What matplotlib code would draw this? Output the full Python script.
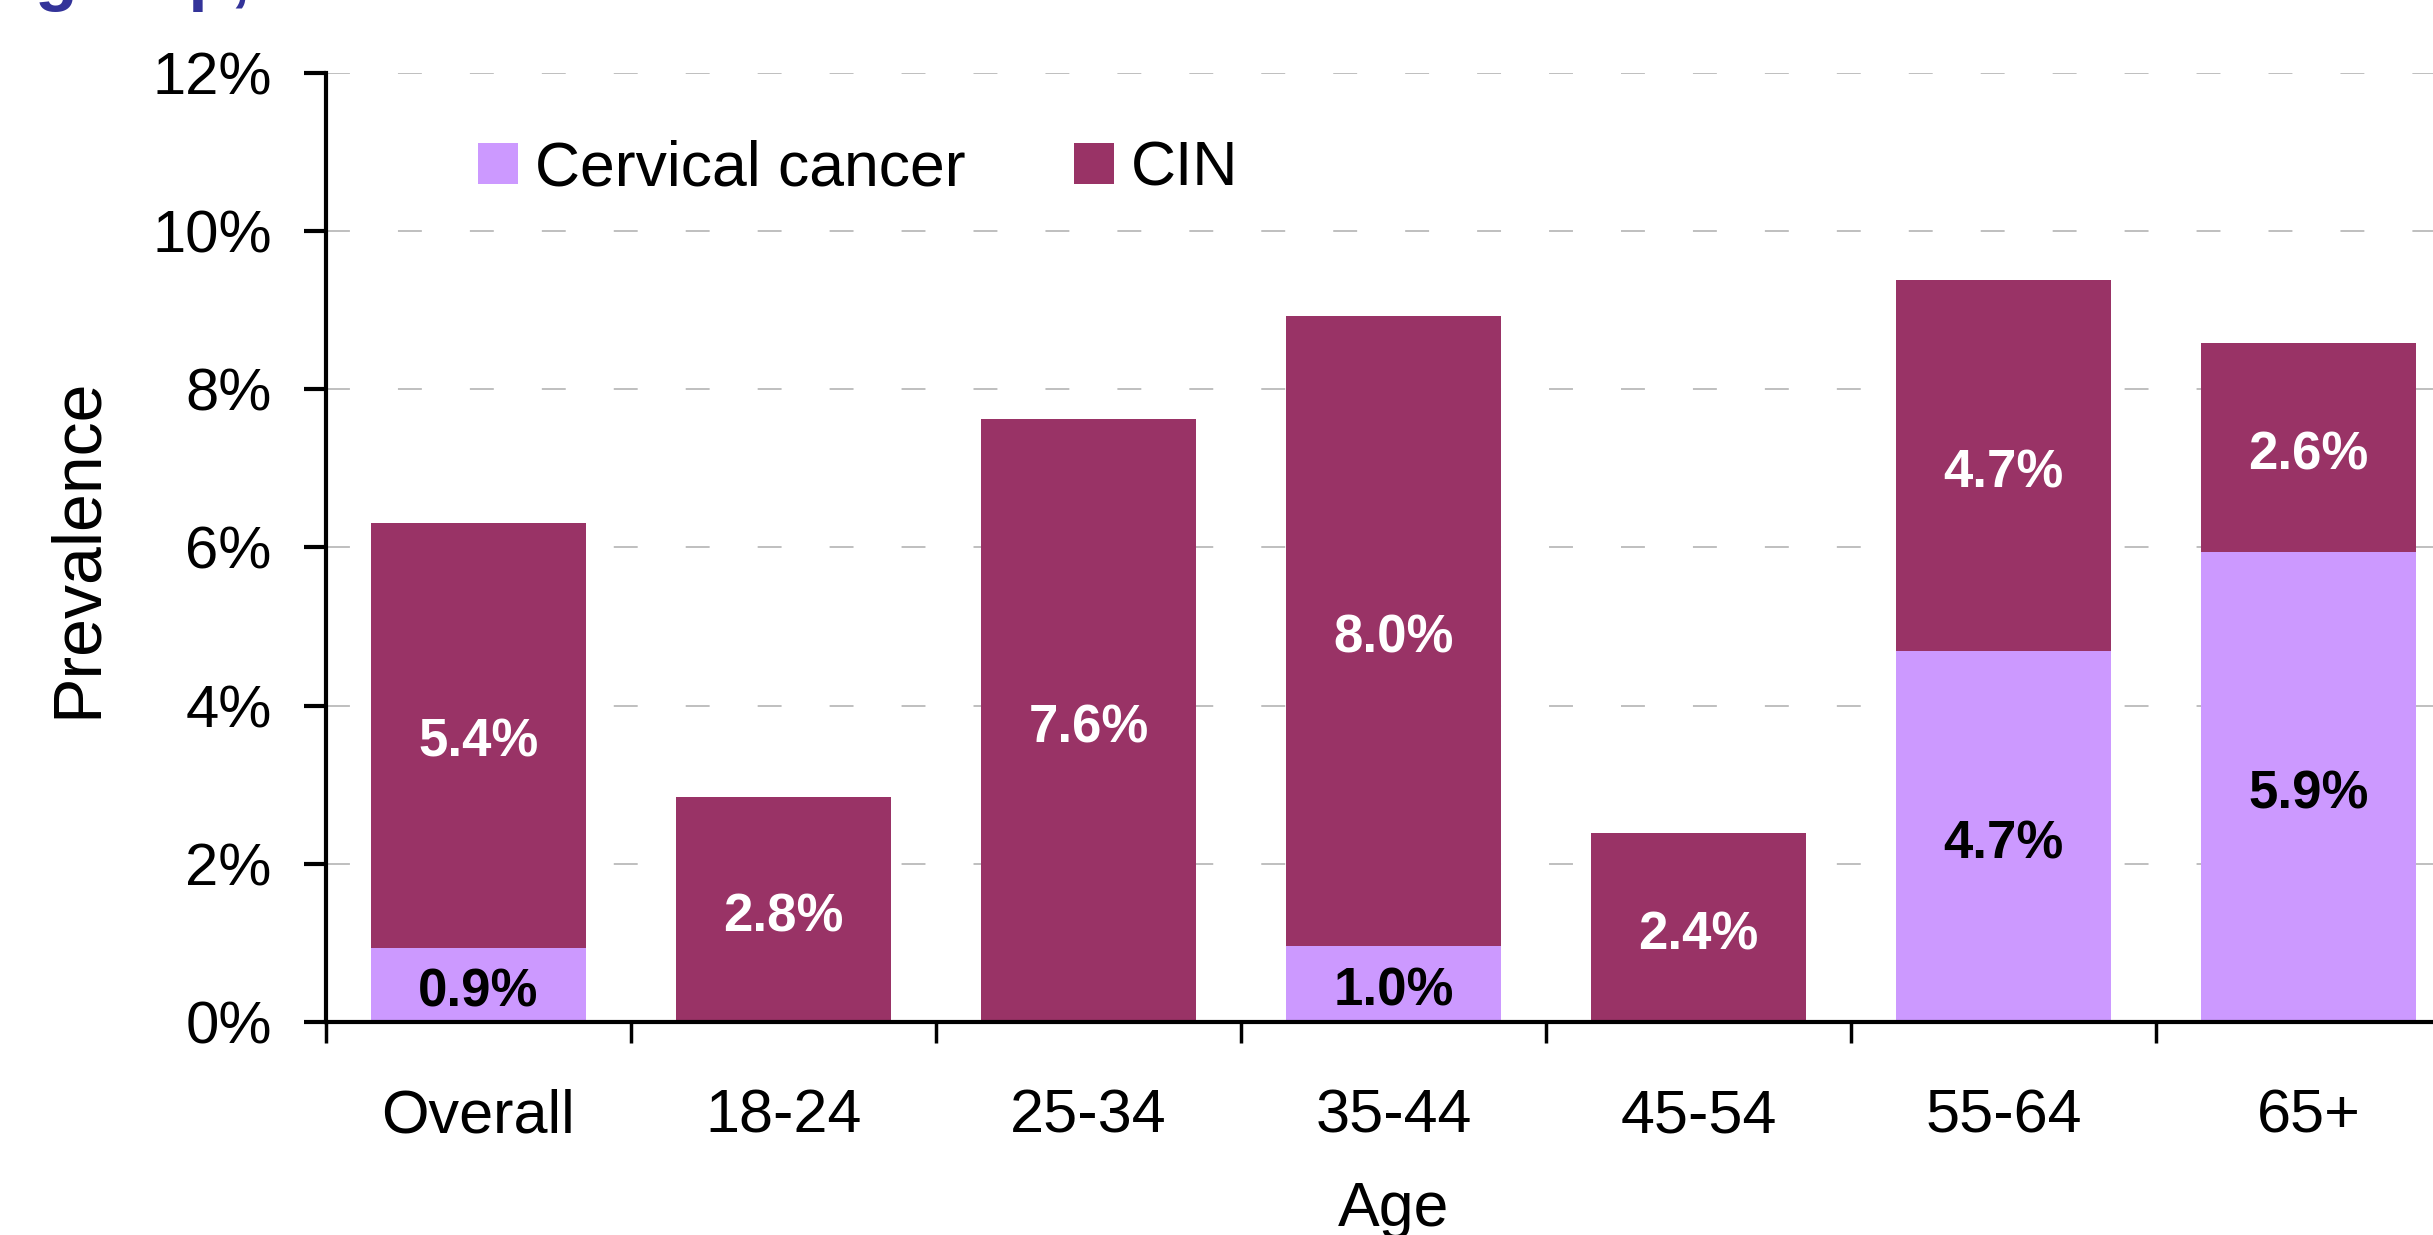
import matplotlib
matplotlib.use('Agg')
import matplotlib.pyplot as plt
from matplotlib.patches import Patch
from matplotlib.ticker import FixedLocator, NullFormatter
import numpy as np

# ---- data ----
categories = ['Overall', '18-24', '25-34', '35-44', '45-54', '55-64', '65+']
cervical_cancer = [0.94, 0.0, 0.0, 0.96, 0.0, 4.69, 5.94]
cin = [5.37, 2.84, 7.62, 7.96, 2.39, 4.69, 2.64]
yticks = [0, 2, 4, 6, 8, 10, 12]
ytick_labels = ['0%', '2%', '4%', '6%', '8%', '10%', '12%']
legend_labels = ['Cervical cancer', 'CIN']
title_fragment = 'group,'

COL_CC = '#CC99FF'
COL_CIN = '#993366'

plt.rcParams['font.family'] = ['Liberation Sans', 'DejaVu Sans']

W, H = 2433, 1235
fig = plt.figure(figsize=(W / 100, H / 100), dpi=100)
left, right, bottom, top = 326, 2461, 1022, 72.7
ax = fig.add_axes([left / W, 1 - bottom / H, (right - left) / W, (bottom - top) / H])

x = np.arange(len(categories))
w = 0.708
b1 = ax.bar(x, cervical_cancer, w, color=COL_CC, zorder=2)
b2 = ax.bar(x, cin, w, bottom=cervical_cancer, color=COL_CIN, zorder=2)


def label_bars(bars, vals, color):
    for rect, v in zip(bars, vals):
        if v > 0:
            ax.annotate(f'{v:.1f}%',
                        (rect.get_x() + rect.get_width() / 2, rect.get_y() + rect.get_height() / 2),
                        xytext=(0, -5.5), textcoords='offset points',
                        ha='center', va='center', fontsize=38,
                        fontweight='bold', color=color, zorder=3)


label_bars(b1, cervical_cancer, 'black')
label_bars(b2, cin, 'white')

ax.set_xlim(-0.5, len(categories) - 0.5)
ax.set_ylim(0, 12)

# y axis
ax.set_yticks(yticks)
ax.set_yticklabels(ytick_labels)
ax.tick_params(axis='y', direction='out', length=16, width=3, pad=23, labelsize=43)

# x axis: labels at centers, ticks at boundaries
ax.set_xticks(x)
ax.set_xticklabels(categories)
ax.tick_params(axis='x', which='major', length=0, pad=48, labelsize=44)
ax.xaxis.set_minor_locator(FixedLocator(np.arange(-0.5, len(categories), 1.0)))
ax.xaxis.set_minor_formatter(NullFormatter())
ax.tick_params(axis='x', which='minor', direction='out', length=15, width=2.5)

for s in ['top', 'right']:
    ax.spines[s].set_visible(False)
ax.spines['left'].set_linewidth(3)
ax.spines['bottom'].set_linewidth(3)
ax.spines['left'].set_zorder(4)
ax.spines['bottom'].set_zorder(4)

ax.yaxis.grid(True, color='#BFBFBF', linewidth=1.4, linestyle=(0, (12.3, 24.7)))
ax.set_axisbelow(True)

ax.set_ylabel('Prevalence', fontsize=49)
ax.yaxis.set_label_coords(-0.101, 0.5)
ax.set_xlabel('Age', fontsize=45)
ax.xaxis.set_label_coords(0.5, -0.1665)

handles = [Patch(facecolor=COL_CC, edgecolor='none'), Patch(facecolor=COL_CIN, edgecolor='none')]
ax.legend(handles, legend_labels, loc='center left', bbox_to_anchor=(0.0712, 0.8986),
          ncol=2, frameon=False, fontsize=45, handlelength=0.64, handleheight=0.64,
          handletextpad=0.27, columnspacing=1.73, borderpad=0, borderaxespad=0)

# clipped title text at top edge (only descenders visible)
fig.text(34 / W, 1.0 + 2 / H, title_fragment, ha='left', va='baseline', fontsize=50,
         fontweight='bold', color='#333399')

fig.savefig('out.png', dpi=100)
